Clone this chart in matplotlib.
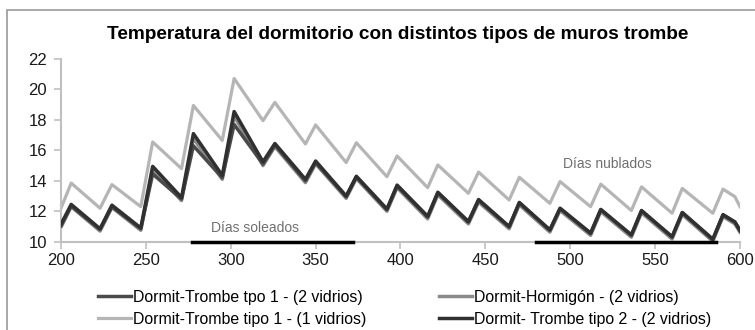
import matplotlib
matplotlib.use("Agg")
import matplotlib.pyplot as plt
from matplotlib.patches import Rectangle

# hours (vertices of the curves: troughs and peaks)
hours = [200, 206, 223, 230, 247, 254, 271, 278, 295, 302, 319, 326, 344, 350,
         368, 374, 392, 398, 416, 422, 440, 446, 464, 470, 488, 494, 512, 518,
         536, 542, 560, 566, 584, 590, 597, 600]

trombe1_2v = [11.05, 12.35, 10.8, 12.3, 10.85, 14.45, 12.8, 16.3, 14.2, 17.7, 15.1, 16.35,
              14.0, 15.2, 12.95, 14.25, 12.1, 13.65, 11.62, 13.2, 11.28, 12.72, 10.97, 12.54,
              10.75, 12.17, 10.53, 12.1, 10.42, 12.02, 10.3, 11.9, 10.13, 11.75, 11.28, 10.72]

hormigon_2v = [10.95, 12.3, 10.7, 12.25, 10.75, 14.75, 12.7, 16.8, 14.1, 18.25, 15.0, 16.25,
               13.88, 15.12, 12.85, 14.15, 12.0, 13.55, 11.5, 13.08, 11.17, 12.6, 10.85, 12.42,
               10.63, 12.05, 10.42, 11.98, 10.3, 11.9, 10.18, 11.78, 10.03, 11.65, 11.17, 10.62]

trombe1_1v = [12.2, 13.85, 12.2, 13.75, 12.3, 16.55, 14.8, 18.95, 16.65, 20.72, 17.95, 19.15,
              16.42, 17.67, 15.2, 16.5, 14.27, 15.63, 13.55, 15.04, 13.18, 14.57, 12.74, 14.23,
              12.52, 13.95, 12.3, 13.78, 12.05, 13.6, 11.87, 13.5, 11.87, 13.45, 12.96, 12.3]

trombe2_2v = [11.15, 12.45, 10.85, 12.4, 10.9, 14.95, 12.9, 17.1, 14.35, 18.55, 15.25, 16.45,
              14.1, 15.3, 13.0, 14.3, 12.15, 13.72, 11.67, 13.25, 11.33, 12.77, 11.0, 12.58,
              10.78, 12.2, 10.57, 12.12, 10.45, 12.05, 10.33, 11.92, 10.17, 11.78, 11.3, 10.75]

labels = ["Dormit-Trombe tpo 1 - (2 vidrios)", "Dormit-Hormigón - (2 vidrios)",
          "Dormit-Trombe tipo 1 - (1 vidrios)", "Dormit- Trombe tipo 2 - (2 vidrios)"]

# periods marked on the x axis
soleados = [277, 372]
nublados = [480, 586]

plt.rcParams["font.family"] = ["Liberation Sans", "DejaVu Sans"]

fig = plt.figure(figsize=(7.55, 3.30), dpi=100)
ax = fig.add_axes([0.0808, 0.2676, 0.9801 - 0.0808, 0.8212 - 0.2676])

l1, = ax.plot(hours, trombe1_2v, color="#4a4a4a", lw=2.5, zorder=3)
l2, = ax.plot(hours, hormigon_2v, color="#8a8a8a", lw=2.5, zorder=2)
l3, = ax.plot(hours, trombe1_1v, color="#b5b5b5", lw=2.3, zorder=2)
l4, = ax.plot(hours, trombe2_2v, color="#303030", lw=2.5, zorder=4)

ax.plot(soleados, [10, 10], color="black", lw=2.5, zorder=6, clip_on=False)
ax.plot(nublados, [10, 10], color="black", lw=2.5, zorder=6, clip_on=False)
ax.text(314, 10.9, "Días soleados", ha="center", va="center", fontsize=10, color="#707070")
ax.text(522, 15.1, "Días nublados", ha="center", va="center", fontsize=10, color="#707070")

ax.set_xlim(200, 600)
ax.set_ylim(10, 22)
ax.set_xticks(range(200, 601, 50))
ax.set_yticks(range(10, 23, 2))
for s in ["top", "right"]:
    ax.spines[s].set_visible(False)
for s in ["left", "bottom"]:
    ax.spines[s].set_color("#c0c0c0")
    ax.spines[s].set_linewidth(1.5)
ax.tick_params(colors="#c0c0c0", length=5, width=1.2, labelsize=12, labelcolor="#1a1a1a")
ax.tick_params(axis="y", pad=5)
ax.tick_params(axis="x", pad=3)

fig.text(0.527, 0.894, "Temperatura del dormitorio con distintos tipos de muros trombe",
         ha="center", va="center", fontsize=13.7, fontweight="bold")

fig.legend([l1, l3, l2, l4], [labels[0], labels[2], labels[1], labels[3]],
           ncol=2, loc="center left", bbox_to_anchor=(98 / 755, 0.066),
           frameon=False, fontsize=11.4, handlelength=2.1, handletextpad=0.1,
           columnspacing=4.6, labelspacing=0.45, borderpad=0, borderaxespad=0)

# outer frame (only top and left edges are visible in the crop)
fig.add_artist(Rectangle((7 / 755, -0.1), 1.2, 1.1 - 10.5 / 330, transform=fig.transFigure,
                         fill=False, edgecolor="#9a9a9a", lw=1.2))

fig.savefig("out.png", dpi=100)
